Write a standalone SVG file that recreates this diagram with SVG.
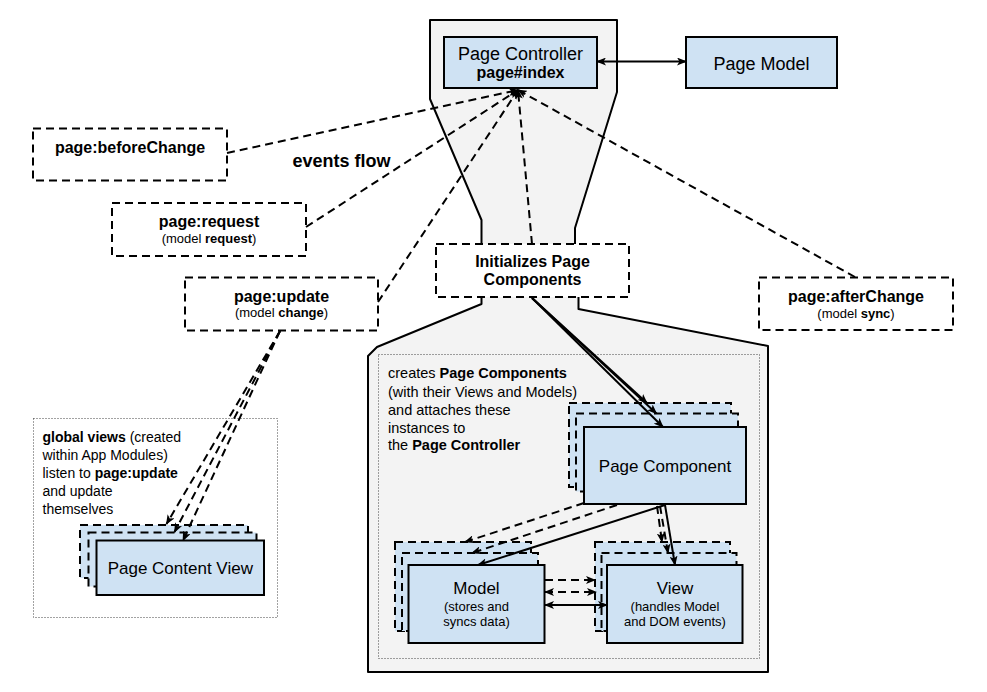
<svg xmlns="http://www.w3.org/2000/svg" width="987" height="692" viewBox="0 0 987 692">
<defs>
<style>
text{font-family:"Liberation Sans",Arial,sans-serif;fill:#000}
.b{font-weight:bold}
.c{text-anchor:middle}
.box{fill:#cfe2f3;stroke:#000;stroke-width:2}
.ghost{fill:#cfe2f3;stroke:#000;stroke-width:2;stroke-dasharray:8 5}
.ev{fill:#fff;stroke:#000;stroke-width:2;stroke-dasharray:8 5}
.dot{fill:none;stroke:#444;stroke-width:1;stroke-dasharray:1 2}
.ln{fill:none;stroke:#000;stroke-width:2}
.dl{fill:none;stroke:#000;stroke-width:2;stroke-dasharray:8 5}
.shell{fill:#f3f3f3;stroke:none}
.edge{fill:none;stroke:#000;stroke-width:2;stroke-linejoin:round}
.t18{font-size:18px}
.t17{font-size:17px}
.t16{font-size:16px}
.t14{font-size:14px}
.t145{font-size:14.5px}
.t13{font-size:13px}
</style>
<marker id="ah" viewBox="0 0 10 8" refX="9" refY="4" markerWidth="10" markerHeight="8" markerUnits="userSpaceOnUse" orient="auto-start-reverse"><path d="M0,0 L10,4 L0,8 L2.5,4 Z" fill="#000"/></marker>
</defs>

<g id="controller-shell">
<polygon class="shell" points="481.5,244 481.5,220 430,99 430,20 617,20 617,92 575,228 575,244"/>
<polyline class="edge" points="481.5,244 481.5,220 430,99 430,20 617,20 617,92 575,228 575,244"/>
</g>

<g id="components-shell">
<polygon class="shell" points="481.5,297 481.5,304 377,347 368,356 368,672 768,672 768,346 578.5,309 578.5,297"/>
<polyline class="edge" points="481.5,297 481.5,304 377,347 368,356 368,672 768,672 768,346 578.5,309 578.5,297"/>
<rect class="dot" x="378.5" y="354.5" width="381" height="304"/>
<text class="t145" x="388" y="378">creates <tspan class="b">Page Components</tspan></text>
<text class="t145" x="388" y="396.5">(with their Views and Models)</text>
<text class="t145" x="388" y="415">and attaches these</text>
<text class="t145" x="388" y="432.5">instances to</text>
<text class="t145" x="388" y="450">the <tspan class="b">Page Controller</tspan></text>
</g>

<g id="global-views">
<rect class="dot" x="33.5" y="418.5" width="244" height="199"/>
<text class="t14" x="42.5" y="442"><tspan class="b">global views</tspan> (created</text>
<text class="t14" x="42.5" y="460">within App Modules)</text>
<text class="t14" x="42.5" y="478">listen to <tspan class="b">page:update</tspan></text>
<text class="t14" x="42.5" y="496">and update</text>
<text class="t14" x="42.5" y="514">themselves</text>
</g>

<g id="page-controller">
<rect class="box" x="444" y="37" width="153" height="51"/>
<text class="t18 c" x="520.5" y="60">Page Controller</text>
<text class="t16 c b" x="520.5" y="78">page#index</text>
</g>

<g id="page-model">
<rect class="box" x="686" y="37" width="151" height="51"/>
<text class="t18 c" x="761.5" y="69.5">Page Model</text>
</g>

<g id="before-change">
<rect class="ev" x="33" y="128.5" width="194" height="52"/>
<text class="t16 c b" x="130" y="153">page:beforeChange</text>
</g>

<g id="events-flow-label">
<text class="t18 b" x="292.5" y="166.5">events flow</text>
</g>

<g id="request">
<rect class="ev" x="112" y="203" width="194" height="53"/>
<text class="t16 c b" x="209" y="227">page:request</text>
<text class="t13 c" x="209" y="242.5">(model <tspan class="b">request</tspan>)</text>
</g>

<g id="update">
<rect class="ev" x="185" y="277.5" width="193" height="53"/>
<text class="t16 c b" x="281.5" y="302">page:update</text>
<text class="t13 c" x="281.5" y="317">(model <tspan class="b">change</tspan>)</text>
</g>

<g id="after-change">
<rect class="ev" x="759" y="277.5" width="194" height="52.5"/>
<text class="t16 c b" x="856" y="302">page:afterChange</text>
<text class="t13 c" x="856" y="317.5">(model <tspan class="b">sync</tspan>)</text>
</g>

<g id="initializes">
<rect class="ev" x="436" y="244" width="193" height="53"/>
<text class="t16 c b" x="532.5" y="266.5">Initializes Page</text>
<text class="t16 c b" x="532.5" y="285">Components</text>
</g>

<g id="page-component">
<rect class="ghost" x="569" y="403" width="162" height="84"/>
<rect class="ghost" x="576" y="413.5" width="162" height="78"/>
<rect class="box" x="584" y="427" width="162" height="77"/>
<text class="t17 c" x="665" y="472">Page Component</text>
</g>

<g id="model">
<rect class="ghost" x="395" y="542" width="136" height="89"/>
<rect class="ghost" x="402" y="553" width="136" height="78"/>
<rect class="box" x="408.5" y="565" width="136" height="78"/>
<text class="t17 c" x="476.5" y="594">Model</text>
<text class="t13 c" x="476.5" y="611">(stores and</text>
<text class="t13 c" x="476.5" y="626">syncs data)</text>
</g>

<g id="view">
<rect class="ghost" x="595" y="542" width="135" height="89"/>
<rect class="ghost" x="601.5" y="553" width="135" height="78"/>
<rect class="box" x="607" y="565" width="135.5" height="78"/>
<text class="t17 c" x="675" y="594">View</text>
<text class="t13 c" x="675" y="611">(handles Model</text>
<text class="t13 c" x="675" y="626">and DOM events)</text>
</g>

<g id="page-content-view">
<rect class="ghost" x="80" y="525" width="168" height="53"/>
<rect class="ghost" x="88.5" y="532.5" width="168" height="54"/>
<rect class="box" x="96.5" y="540.5" width="167.5" height="54.5"/>
<text class="t17 c" x="180.3" y="574">Page Content View</text>
</g>

<g id="connectors">
<path class="ln" d="M597,61.5 L686,61.5" marker-start="url(#ah)" marker-end="url(#ah)"/>
<path class="dl" d="M227,153 L518,90" marker-end="url(#ah)"/>
<path class="dl" d="M306,227 L518,90" marker-end="url(#ah)"/>
<path class="dl" d="M378,302 L518,90" marker-end="url(#ah)"/>
<path class="dl" d="M532,244 L518,90" marker-end="url(#ah)"/>
<path class="dl" d="M855,277 L518,90" marker-end="url(#ah)"/>
<path class="ln" d="M532,298 L647,403" marker-end="url(#ah)"/>
<path class="ln" d="M532,298 L656.5,413.5" marker-end="url(#ah)"/>
<path class="ln" d="M532,298 L663,427" marker-end="url(#ah)"/>
<path class="dl" d="M280,331 L166.5,524" marker-end="url(#ah)"/>
<path class="dl" d="M280,331 L174.5,532" marker-end="url(#ah)"/>
<path class="dl" d="M280,331 L183,540.5" marker-end="url(#ah)"/>
<path class="dl" d="M584,503 L465,542" marker-end="url(#ah)"/>
<path class="dl" d="M617,505 L472,553" marker-end="url(#ah)"/>
<path class="ln" d="M665,505 L478,565" marker-end="url(#ah)"/>
<path class="dl" d="M657,506 L662,542" marker-end="url(#ah)"/>
<path class="dl" d="M660,506 L668,553" marker-end="url(#ah)"/>
<path class="ln" d="M665,505 L675,565" marker-end="url(#ah)"/>
<path class="dl" d="M545,580 L595,580" marker-end="url(#ah)"/>
<path class="dl" d="M545,592 L596,592" marker-start="url(#ah)" marker-end="url(#ah)"/>
<path class="ln" d="M545,605 L607,605" marker-start="url(#ah)" marker-end="url(#ah)"/>
</g>
</svg>
